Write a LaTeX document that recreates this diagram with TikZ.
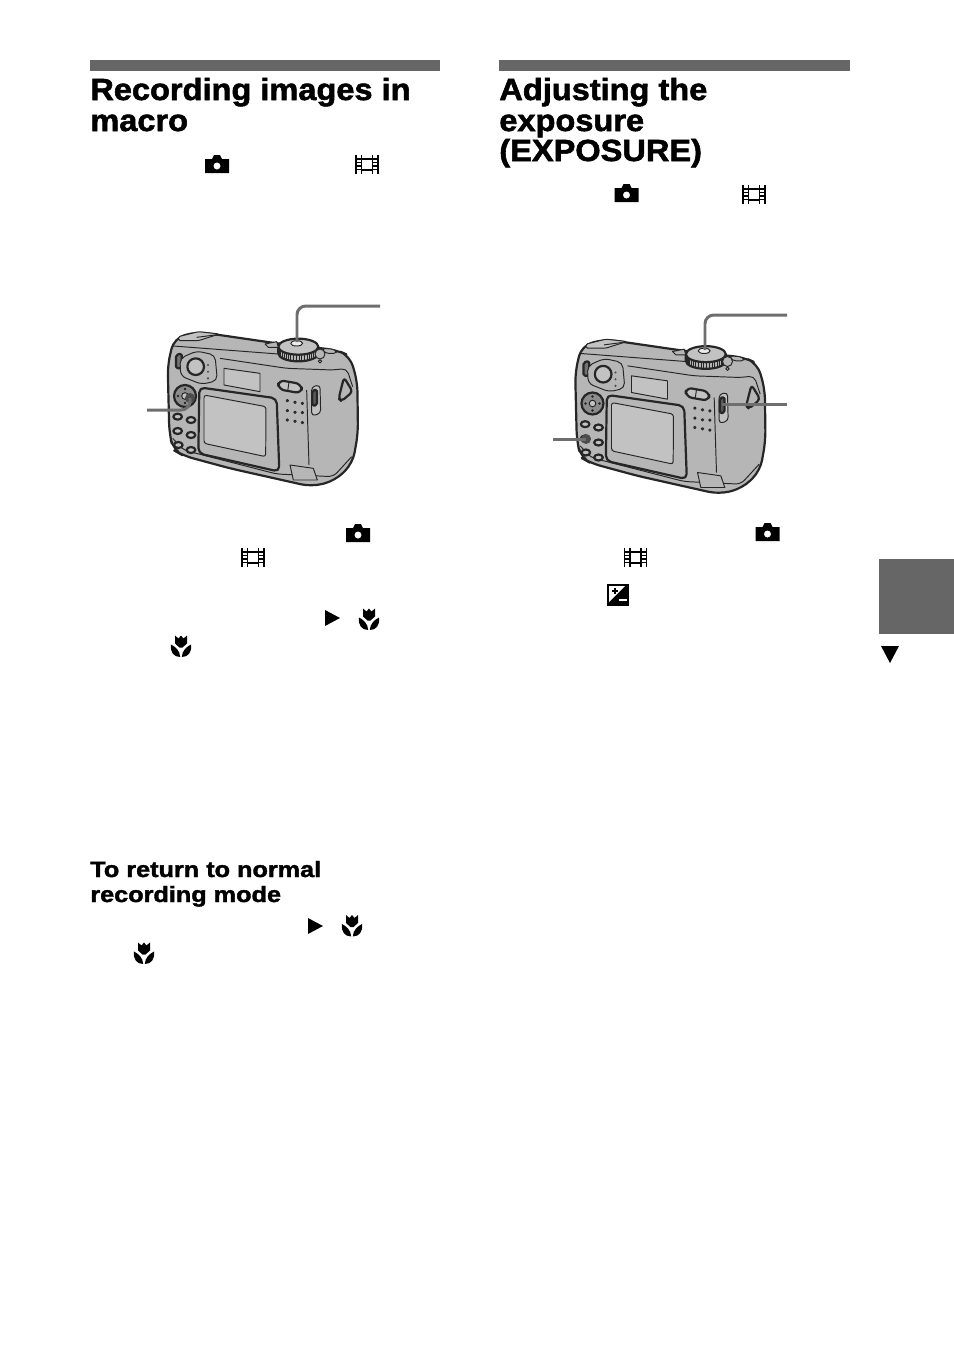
\documentclass[tikz,border=0pt]{standalone}
\usepackage{fontspec}
\setmainfont[FakeBold=1.6]{Liberation Sans}
\newfontfamily\titlefont[FakeBold=1.8,FakeStretch=1.065]{Liberation Sans Bold}
\newfontfamily\subtitlefont[FakeBold=1.8,FakeStretch=1.14]{Liberation Sans Bold}
\definecolor{bargray}{HTML}{666666}
\definecolor{bodygray}{HTML}{B6B6B6}
\definecolor{lcdgray}{HTML}{C2C2C2}
\definecolor{leadgray}{HTML}{6E6E6E}
\tikzstyle{title}=[anchor=base west,inner sep=0pt,font=\fontsize{17.4}{17.4}\titlefont]
\tikzstyle{subtitle}=[anchor=base west,inner sep=0pt,font=\fontsize{12.6}{12.6}\subtitlefont]
\tikzstyle{leader}=[draw=leadgray,line width=1.7pt,rounded corners=5pt]
\tikzstyle{outline}=[draw=black!85,line width=0.55pt,line join=round]
\tikzstyle{heavy}=[draw=black!85,line width=1.25pt,line join=round]
% camera, seen from the back
\newcommand{\cameraback}[1]{%
\begin{scope}[shift={(#1)},scale=1/3]
  \path[fill=bodygray,heavy,rounded corners=6pt] (132,145) -- (200,125) -- (440,160) -- (620,180) -- (660,198)
     -- (682,275) -- (684,430) -- (668,520) -- (615,572) -- (545,590) -- (300,535) -- (160,497)
     -- (130,480) -- (118,430) -- (113,225) -- cycle;
  \draw[outline,rounded corners=3pt] (130,168) -- (445,192);
  \draw[outline,rounded corners=3pt] (270,205) -- (470,235) -- (610,240) -- (650,235) -- (668,290);
  \draw[outline,rounded corners=3pt] (128,445) -- (160,480) -- (440,552) -- (610,560) -- (665,500);
  \draw[outline] (530,300) -- (537,525);
  % flash shoe
  \draw[outline,fill=lcdgray,rounded corners=1pt] (145,140) -- (205,125) -- (268,132) -- (205,152) -- (145,152) -- cycle;
  \draw[outline] (200,142) -- (262,134);
  % finder
  \draw[heavy,fill=black!55,rounded corners=1pt] (138,195) -- (155,190) -- (155,235) -- (138,235) -- cycle;
  \draw[outline,fill=bodygray,rounded corners=3pt] (150,205) -- (200,183) -- (255,195) -- (262,272) -- (215,283) -- (152,258) -- cycle;
  \draw[heavy,fill=lcdgray] (197,230) circle (25);
  \foreach \yy in {225,245,265} \fill[black!70] (234,\yy) circle (3.5);
  % window
  \draw[outline,fill=lcdgray] (282,235) -- (390,250) -- (390,305) -- (282,285) -- cycle;
  % mode dial
  \draw[heavy,fill=bodygray] (445,170) -- (445,190) arc[start angle=180,end angle=0,x radius=60,y radius=24] -- (565,170);
  \foreach \aa in {8,16,...,172} \draw[black!85,line width=0.5pt] (505+60*cos \aa,172+24*sin \aa) -- (505+60*cos \aa,190+24*sin \aa);
  \draw[heavy,fill=lcdgray] (505,170) ellipse (60 and 24);
  \draw[outline,fill=white!70!lcdgray] (500,160) ellipse (18 and 8);
  \draw[outline,fill=bodygray] (405,162) -- (440,155) -- (445,172) -- (415,172) -- cycle;
  % buttons at the shoulder
  \draw[outline,fill=bodygray,rounded corners=2pt] (575,175) -- (615,178) -- (622,190) -- (585,190) -- cycle;
  \draw[outline,fill=bodygray] (570,192) circle (15);
  \draw[outline,fill=bodygray] (570,214) circle (5);
  % zoom
  \draw[heavy,fill=lcdgray,rounded corners=3.5pt] (445,270) -- (515,282) -- (515,310) -- (445,298) -- cycle;
  \draw[outline] (477,276) -- (473,304);
  % grille
  \foreach \xx/\yy in {472/332,495/337,517/340,472/362,495/367,517/368,472/390,495/394,517/398}
    \draw[outline,fill=black!40] (\xx,\yy) circle (3.5);
  % jog
  \draw[outline,fill=lcdgray,rounded corners=2pt] (545,290) -- (570,285) -- (572,370) -- (545,378) -- cycle;
  \draw[heavy,fill=black!65,rounded corners=1pt] (547,302) -- (561,298) -- (561,345) -- (547,348) -- cycle;
  % strap
  \draw[heavy,rounded corners=2pt] (626,325) -- (642,262) -- (668,305) -- (634,334) -- cycle;
  % bottom cover
  \draw[outline,fill=bodygray] (480,525) -- (550,535) -- (562,570) -- (490,570) -- cycle;
  % lcd
  \draw[heavy,fill=bodygray,rounded corners=3pt] (208,292) -- (440,325) -- (448,545) -- (205,490) -- cycle;
  \draw[outline,fill=lcdgray,rounded corners=1.5pt] (222,315) -- (408,350) -- (407,500) -- (222,460) -- cycle;
  % wheel
  \draw[heavy,fill=black!45] (165,318) circle (33);
  \draw[outline,fill=lcdgray] (165,318) circle (10);
  \foreach \aa in {0,90,180,270} \fill[black!85] (165+21*cos \aa,318+21*sin \aa) circle (4);
  % keys
  \foreach \xx/\yy in {143/380,183/390,143/423,183/435,145/465,183/480}
    \draw[heavy,fill=lcdgray] (\xx,\yy) ellipse (13 and 9);
\end{scope}}
% small symbols, given by their centre
\newcommand{\photoicon}[1]{%
\begin{scope}[shift={(#1)}]
  \fill[black,even odd rule] (-12,-5) -- (-5,-5) -- (-3,-9) -- (3,-9) -- (5,-5) -- (12,-5) -- (12,9) -- (-12,9) -- cycle (0,2) circle (3.6);
\end{scope}}
\newcommand{\filmicon}[1]{%
\begin{scope}[shift={(#1)}]
  \draw[black,line width=1.1pt] (-11,-9.5) -- (-11,9.5) (-5.5,-9.5) -- (-5.5,9.5) (5.5,-9.5) -- (5.5,9.5) (11,-9.5) -- (11,9.5);
  \draw[black,line width=1.1pt] (-5.5,-5.5) -- (5.5,-5.5) (-5.5,5.5) -- (5.5,5.5);
  \foreach \yy in {-5.5,-2,1.5,5} \draw[black,line width=0.6pt] (-11,\yy) -- (-5.5,\yy) (5.5,\yy) -- (11,\yy);
\end{scope}}
\newcommand{\macroicon}[1]{%
\begin{scope}[shift={(#1)}]
  \fill[black] (-6,-11) -- (-2.5,-8) -- (0,-11) -- (2.5,-8) -- (6,-11) -- (6,-3) -- (1.5,1) -- (-1.5,1) -- (-6,-3) -- cycle;
  \fill[black] (-0.8,10.5) .. controls (-1,4) and (-6,0) .. (-10,-2) .. controls (-11,6) and (-7,10.5) .. cycle;
  \fill[black] (0.8,10.5) .. controls (1,4) and (6,0) .. (10,-2) .. controls (11,6) and (7,10.5) .. cycle;
\end{scope}}
\begin{document}
\begin{tikzpicture}[x=0.02cm,y=-0.02cm]
  \useasboundingbox (0,0) rectangle (954,1357);
  % left column
  \fill[bargray] (90,60) rectangle (440,71);
  \node[title] (title1a) at (90,100) {Recording images in};
  \node[title] (title1b) at (90,131) {macro};
  \photoicon{217,164}
  \filmicon{367,164.5}
  \cameraback{130,290}
  \coordinate (a1) at (380,306);
  \coordinate (a2) at (297,342);
  \coordinate (a3) at (147,410);
  \coordinate (a4) at (190,398);
  \fill[black!70] (a4) circle (5);
  \draw[leader] (a1) -| (a2);
  \draw[leader] (a3) -| (a4);
  \photoicon{358,533}
  \filmicon{253,557.5}
  \fill[black] (325,610) -- (340,618) -- (325,626) -- cycle;
  \macroicon{369,619.5}
  \macroicon{181,646.5}
  \node[subtitle] (sub1a) at (90,877) {To return to normal};
  \node[subtitle] (sub1b) at (90,902) {recording mode};
  \fill[black] (308,918) -- (323,926) -- (308,934) -- cycle;
  \macroicon{352,926}
  \macroicon{144,953.5}
  % right column
  \fill[bargray] (499,60) rectangle (850,71);
  \node[title] (title2a) at (499,100) {Adjusting the};
  \node[title] (title2b) at (499,131) {exposure};
  \node[title] (title2c) at (499,161) {(EXPOSURE)};
  \photoicon{626.5,193}
  \filmicon{754,194.5}
  \cameraback{537.5,297.5}
  \coordinate (b1) at (787,315);
  \coordinate (b2) at (705,350);
  \coordinate (b3) at (787,404);
  \coordinate (b4) at (722,404);
  \coordinate (b5) at (553,439);
  \coordinate (b6) at (586,439);
  \draw[leader] (b1) -| (b2);
  \draw[leader] (b3) -- (b4);
  \fill[black!70] (b6) circle (5);
  \draw[leader] (b5) -- (b6);
  \photoicon{767.5,532}
  \filmicon{635.5,557.5}
  \fill[black] (607,584) rectangle (629,606);
  \fill[white] (609,586) -- (625,586) -- (609,602) -- cycle;
  \draw[black,line width=0.7pt] (612,591) -- (618,591) (615,588) -- (615,594);
  \draw[white,line width=0.8pt] (619,600) -- (627,600);
  % thumb tab
  \fill[bargray] (879,559) rectangle (954,634);
  \fill[black] (881,646) -- (899,646) -- (890,663) -- cycle;
\end{tikzpicture}
\end{document}
